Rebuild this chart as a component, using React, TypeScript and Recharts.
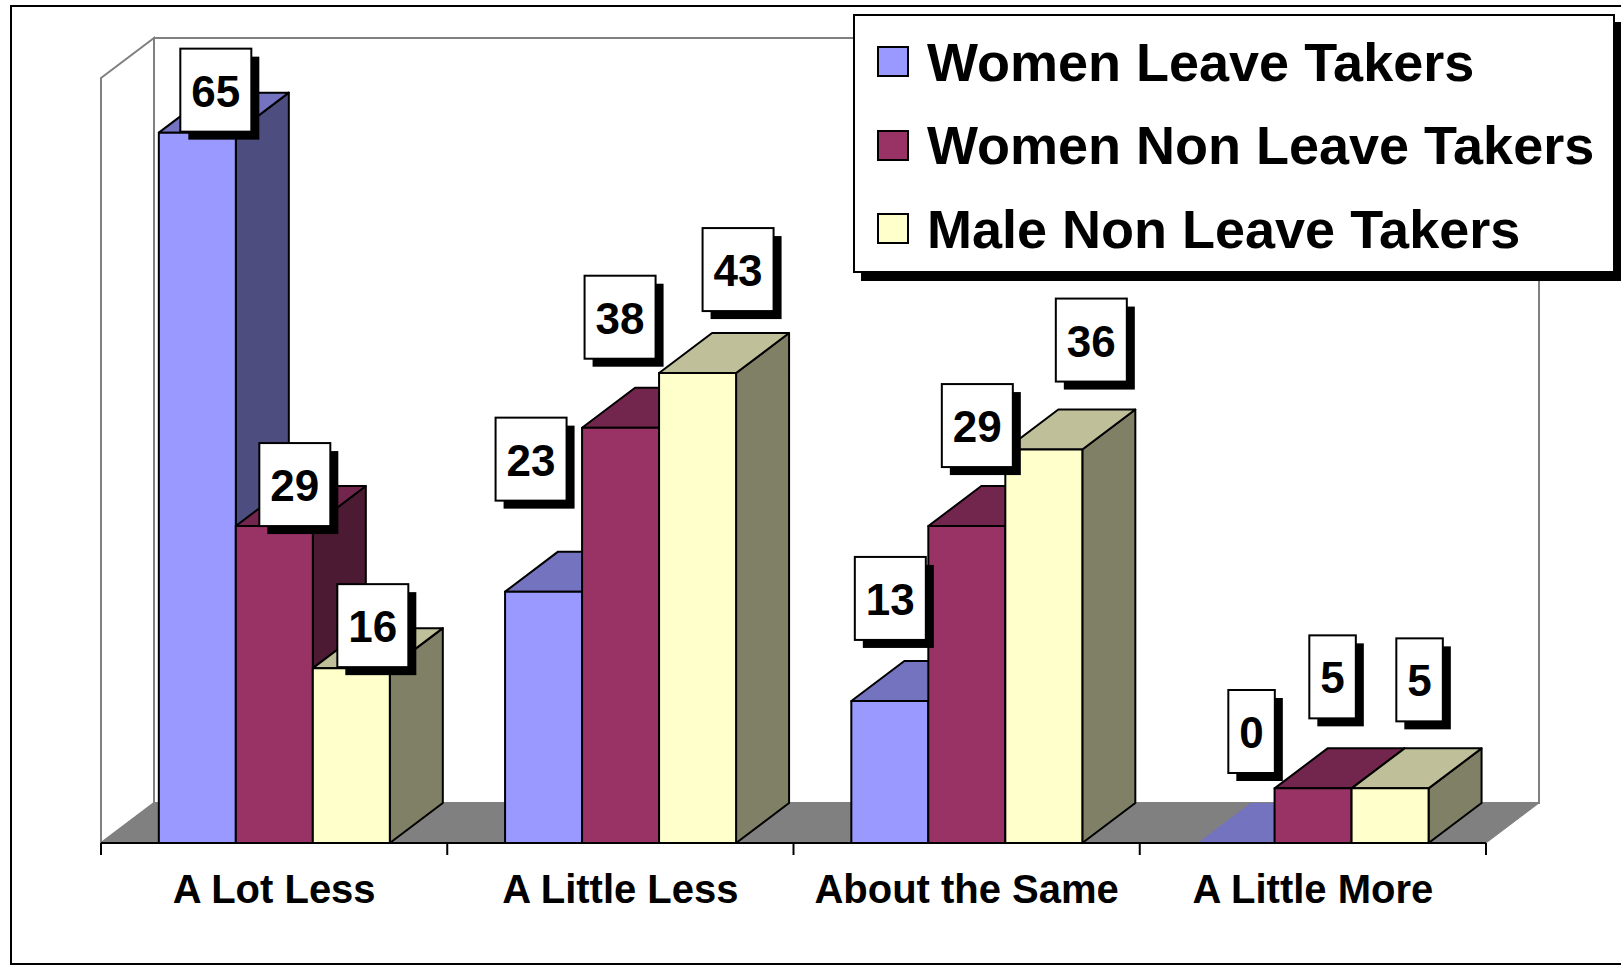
import React from 'react';
import { BarChart, Bar, XAxis, YAxis, ReferenceArea, LabelList, Legend } from 'recharts';

// Survey answers per group (percent)
const categories = ['A Lot Less', 'A Little Less', 'About the Same', 'A Little More'];
const womenLeaveTakers = [65, 23, 13, 0];
const womenNonLeaveTakers = [29, 38, 29, 5];
const maleNonLeaveTakers = [16, 43, 36, 5];
const seriesNames = ['Women Leave Takers', 'Women Non Leave Takers', 'Male Non Leave Takers'];
const yDomain = [0, 70];

// hand-placed value tags: [dx, dy] from their default spot above each bar
const labelNudge = [
  [[-8, 69], [-39, -21], [-26, 9], [-11, 0]],
  [[-6, 70], [-27, 1], [-16, 11], [-7, 0]],
  [[-5, 69], [14, 8], [21, 2], [3, 3]],
];

const data = categories.map((name, i) => ({
  name,
  wlt: womenLeaveTakers[i],
  wnlt: womenNonLeaveTakers[i],
  mnlt: maleNonLeaveTakers[i],
}));

const seriesStyle = [
  { key: 'wlt', front: '#9999FF', top: '#7373BF', side: '#4D4D80' },
  { key: 'wnlt', front: '#993366', top: '#73264D', side: '#4D1A33' },
  { key: 'mnlt', front: '#FFFFCC', top: '#BFBF99', side: '#808066' },
];

const W = 1621;
const H = 966;
const AXIS_H = 60;
const MARGIN = { top: 78, right: 135, bottom: 63, left: 101 };
const PLOT_W = W - MARGIN.left - MARGIN.right;
const DEPTH_X = 53;
const DEPTH_Y = 40;
const FONT = "'Liberation Sans', Arial, Helvetica, sans-serif";
const WALL = '#808080';

// floor, left wall and back wall of the 3-D box
const Walls = (props: any) => {
  const { x, y, width, height } = props;
  const b = y + height;
  return (
    <g>
      <rect x={x + DEPTH_X} y={y - DEPTH_Y} width={width} height={height} fill="#fff" stroke={WALL} strokeWidth={2} />
      <polygon
        points={`${x},${y} ${x + DEPTH_X},${y - DEPTH_Y} ${x + DEPTH_X},${b - DEPTH_Y} ${x},${b}`}
        fill="#fff" stroke={WALL} strokeWidth={2}
      />
      <polygon
        points={`${x},${b} ${x + DEPTH_X},${b - DEPTH_Y} ${x + width + DEPTH_X},${b - DEPTH_Y} ${x + width},${b}`}
        fill={WALL} stroke={WALL} strokeWidth={1}
      />
    </g>
  );
};

const Box3D = (props: any) => {
  const { x, y, width, height, front, top, side } = props;
  const x2 = x + width;
  const y2 = y + height;
  const topFace = `${x},${y} ${x + DEPTH_X},${y - DEPTH_Y} ${x2 + DEPTH_X},${y - DEPTH_Y} ${x2},${y}`;
  if (!height || height < 0.5) {
    return <polygon points={topFace} fill={top} />;
  }
  return (
    <g stroke="#000" strokeWidth={2} strokeLinejoin="round">
      <polygon points={`${x2},${y} ${x2 + DEPTH_X},${y - DEPTH_Y} ${x2 + DEPTH_X},${y2 - DEPTH_Y} ${x2},${y2}`} fill={side} />
      <polygon points={topFace} fill={top} />
      <rect x={x} y={y} width={width} height={height} fill={front} />
    </g>
  );
};

const CategoryTick = (props: any) => {
  const { x, y, payload, index } = props;
  const band = PLOT_W / categories.length;
  return (
    <g>
      <line x1={x - band / 2} x2={x - band / 2} y1={y} y2={y + 12} stroke="#000" strokeWidth={2} />
      {index === categories.length - 1 && (
        <line x1={x + band / 2} x2={x + band / 2} y1={y} y2={y + 12} stroke="#000" strokeWidth={2} />
      )}
      <text x={x} y={y + 60} textAnchor="middle" fontSize={40} fontWeight="bold" fontFamily={FONT} fill="#000">
        {payload.value}
      </text>
    </g>
  );
};

const makeTag = (series: number) => (props: any) => {
  const vb = props.viewBox || props;
  const { x, y, width } = vb;
  const index = props.index;
  const [ndx, ndy] = labelNudge[series][index] || [0, 0];
  const text = String(props.value);
  const boxW = text.length * 24.5 + 22;
  const boxH = 83;
  const cx = x + width / 2 + DEPTH_X / 2 + ndx;
  const bottom = y - 70 + ndy;
  const left = cx - boxW / 2;
  const top = bottom - boxH;
  return (
    <g key={`tag-${series}-${index}`}>
      <rect x={left + 8} y={top + 8} width={boxW} height={boxH} fill="#000" />
      <rect x={left} y={top} width={boxW} height={boxH} fill="#fff" stroke="#000" strokeWidth={2} />
      <text x={cx} y={top + 58} textAnchor="middle" fontSize={44} fontWeight="bold" fontFamily={FONT} fill="#000">
        {text}
      </text>
    </g>
  );
};

// legend rows follow the series order, whatever order the payload arrives in
const LegendBox = (props: any) => {
  const payload: any[] = props.payload || [];
  const items = seriesNames.map((name, i) => {
    const hit = payload.find((p) => p.value === name);
    return { value: name, color: (hit && hit.color) || seriesStyle[i].front };
  });
  return (
    <div
      style={{
        boxSizing: 'border-box',
        width: 762,
        height: 259,
        background: '#fff',
        border: '2px solid #000',
        boxShadow: '8px 8px 0 #000',
        paddingTop: 4,
        fontFamily: FONT,
      }}
    >
      {items.map((it, i) => (
        <div key={i} style={{ display: 'flex', alignItems: 'center', height: 83.5, paddingLeft: 22 }}>
          <div style={{ boxSizing: 'border-box', width: 32, height: 31, background: it.color, border: '2px solid #000' }} />
          <span style={{ marginLeft: 18, fontSize: 54, fontWeight: 'bold', color: '#000', whiteSpace: 'nowrap' }}>
            {it.value}
          </span>
        </div>
      ))}
    </div>
  );
};

export default function App() {
  return (
    <div style={{ position: 'absolute', left: 0, top: 0, width: W, height: H, overflow: 'hidden', background: '#fff' }}>
      <div
        style={{
          position: 'absolute', left: 10, top: 5, width: 1612, height: 960, boxSizing: 'border-box',
          borderTop: '2px solid #000', borderLeft: '2px solid #000', borderBottom: '2px solid #000', borderRight: '1px solid #ddd',
        }}
      />
      <div style={{ position: 'absolute', left: 0, top: 0 }}>
        <BarChart width={W} height={H} data={data} margin={MARGIN} barCategoryGap="16.7%" barGap={0}>
          <YAxis hide domain={yDomain} type="number" />
          <ReferenceArea y1={yDomain[0]} y2={yDomain[1]} shape={<Walls />} ifOverflow="visible" />
          <XAxis
            dataKey="name"
            height={AXIS_H}
            interval={0}
            axisLine={{ stroke: '#000', strokeWidth: 2 }}
            tickLine={false}
            tickSize={0}
            tickMargin={0}
            tick={(p: any) => <CategoryTick {...p} />}
          />
          {seriesStyle.map((s, i) => (
            <Bar
              key={s.key}
              dataKey={s.key}
              name={seriesNames[i]}
              fill={s.front}
              isAnimationActive={false}
              shape={(p: any) => <Box3D {...p} front={s.front} top={s.top} side={s.side} />}
            />
          ))}
          <Legend
            layout="vertical"
            align="center"
            verticalAlign="middle"
            content={<LegendBox />}
            wrapperStyle={{ left: 853, top: 14, width: 762, height: 259 }}
          />
        </BarChart>
      </div>
      {/* value tags sit above every bar, so they get their own layer */}
      <div style={{ position: 'absolute', left: 0, top: 0, pointerEvents: 'none' }}>
        <BarChart
          width={W}
          height={H}
          data={data}
          margin={{ ...MARGIN, bottom: MARGIN.bottom + AXIS_H }}
          barCategoryGap="16.7%"
          barGap={0}
        >
          <YAxis hide domain={yDomain} type="number" />
          <XAxis dataKey="name" hide />
          {seriesStyle.map((s, i) => (
            <Bar key={s.key} dataKey={s.key} fill="none" isAnimationActive={false} shape={() => <g />}>
              <LabelList dataKey={s.key} content={makeTag(i)} />
            </Bar>
          ))}
        </BarChart>
      </div>
    </div>
  );
}
